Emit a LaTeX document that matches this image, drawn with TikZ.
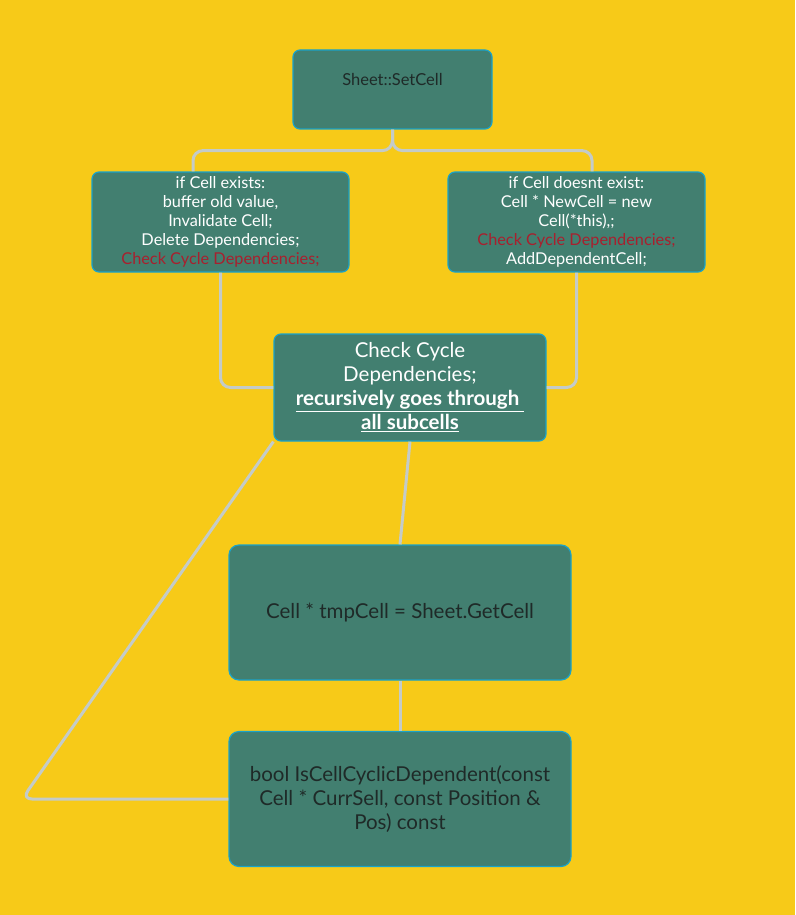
\documentclass[tikz,border=0pt]{standalone}
\usepackage{fontspec}
\setmainfont{Lato}
\usepackage{tikz}
\usetikzlibrary{positioning}
\definecolor{bgyellow}{HTML}{F7CA18}
\definecolor{boxgreen}{HTML}{427F70}
\definecolor{boxline}{HTML}{1AA3C8}
\definecolor{wire}{HTML}{C4CBC8}
\definecolor{darktext}{HTML}{1F2A28}
\definecolor{redtext}{HTML}{A8202E}

\begin{document}
\begin{tikzpicture}[x=1pt, y=-1pt]
    \tikzset{box/.style = {shape=rectangle, draw=boxline, line width=1.2pt, fill=boxgreen, rounded corners=7pt, align=center, inner sep=0pt}}
    \tikzset{smallbox/.style = {box, minimum width=257pt, minimum height=100pt, font=\fontsize{16.3}{19}\selectfont, text=white}}
    \tikzset{bigbox/.style = {box, minimum width=342pt, minimum height=135pt, rounded corners=10pt, font=\fontsize{20.5}{24}\selectfont, text=darktext}}
    \tikzset{edge/.style = {draw=wire, line width=3pt, rounded corners=10pt}}

    % background
    \fill[bgyellow] (0,0) rectangle (795,915);
    \useasboundingbox (0,0) rectangle (795,915);

    % vertices
    \node[box, minimum width=199pt, minimum height=79pt] (setcell) at (392.5,89.5) {};
    \node[font=\fontsize{16.5}{19}\selectfont, text=darktext] (setcelltext) at ([yshift=10pt]setcell.center) {Sheet::SetCell};
    \node[smallbox] (exists) at (220.5,222) {if Cell exists:\\buffer old value,\\Invalidate Cell;\\Delete Dependencies;\\\textcolor{redtext}{Check Cycle Dependencies;}};
    \node[smallbox] (notexists) at (576.5,222) {if Cell doesnt exist:\\Cell * NewCell = new\\Cell(*this),;\\\textcolor{redtext}{Check Cycle Dependencies;}\\AddDependentCell;};
    \node[box, minimum width=272pt, minimum height=107pt, font=\fontsize{20.5}{24}\selectfont, text=white] (check) at (410,387.5) {Check Cycle\\Dependencies;\\\textbf{\underline{recursively goes through\ }}\\\textbf{\underline{all subcells}}};
    \node[bigbox] (tmpcell) at (400,612.5) {Cell * tmpCell = Sheet.GetCell};
    \node[bigbox] (cyclic) at (400,799) {bool IsCellCyclicDependent(const\\Cell * CurrSell, const Position \&\\Pos) const};
    \coordinate (loopcorner) at (22,799);

    % edges
    \draw[edge] (setcell.south) -- ++(0,21) -| ([xshift=-27.5pt]exists.north);
    \draw[edge] (setcell.south) -- ++(0,21) -| ([xshift=15.5pt]notexists.north);
    \draw[edge] (exists.south) |- (check.west);
    \draw[edge] (notexists.south) |- (check.east);
    \draw[edge] (check.south) -- (tmpcell.north);
    \draw[edge] (tmpcell.south) -- (cyclic.north);
    \draw[edge] (check.south west) -- (loopcorner) -- (cyclic.west);
\end{tikzpicture}
\end{document}
